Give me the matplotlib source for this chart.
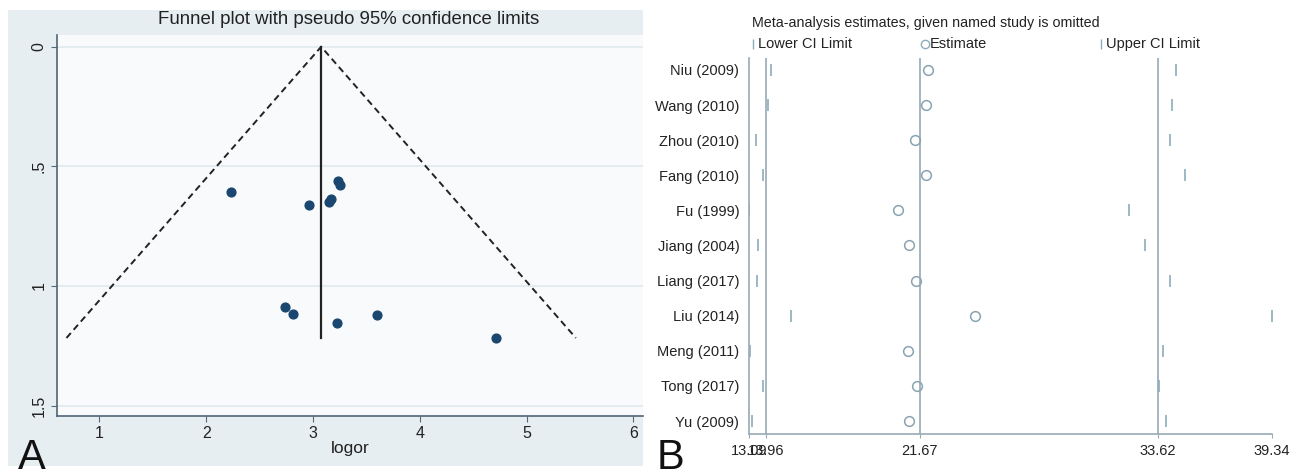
import numpy as np
import matplotlib.pyplot as plt
from matplotlib.patches import Rectangle
from matplotlib.lines import Line2D

plt.rcParams['font.family'] = ['Liberation Sans', 'DejaVu Sans']

# panel A: funnel plot data (log OR vs s.e. of log OR)
logor = [2.23, 2.96, 3.145, 3.17, 3.235, 3.255, 2.74, 2.81, 3.22, 3.60, 4.71]
se_logor = [0.607, 0.661, 0.647, 0.637, 0.562, 0.579, 1.089, 1.117, 1.156, 1.119, 1.216]
pooled_logor = 3.076
se_max = 1.217

# panel B: leave-one-out sensitivity analysis
studies = ['Niu (2009)', 'Wang (2010)', 'Zhou (2010)', 'Fang (2010)', 'Fu (1999)',
           'Jiang (2004)', 'Liang (2017)', 'Liu (2014)', 'Meng (2011)', 'Tong (2017)',
           'Yu (2009)']
estimate = [22.09, 21.98, 21.42, 21.98, 20.58, 21.10, 21.46, 24.42, 21.06, 21.54, 21.14]
lower_ci = [14.17, 14.04, 13.46, 13.81, 13.09, 13.52, 13.48, 15.20, 13.12, 13.81, 13.22]
upper_ci = [34.51, 34.34, 34.23, 34.97, 32.17, 32.99, 34.23, 39.34, 33.86, 33.65, 34.04]
overall = [13.96, 21.67, 33.62]
b_ticks = [13.09, 13.96, 21.67, 33.62, 39.34]

W, H = 1308, 472
fig = plt.figure(figsize=(W / 100, H / 100), dpi=100)
fig.patch.set_facecolor('white')


def box(x0, y0, x1, y1):
    # pixel box (top-left origin) -> figure fraction rect
    return [x0 / W, 1 - y1 / H, (x1 - x0) / W, (y1 - y0) / H]


# ---- panel A ----
r = box(8, 10, 643, 466)
fig.patches.append(Rectangle((r[0], r[1]), r[2], r[3], transform=fig.transFigure,
                             facecolor='#e7eef1', edgecolor='none', zorder=-5))
axA = fig.add_axes(box(57, 35, 643, 416))
axA.set_zorder(2)
axA.set_facecolor('#f8fafb')
axA.set_xlim(0.602, 6.09)
axA.set_ylim(1.543, -0.049)
for y in [0, 0.5, 1, 1.5]:
    axA.axhline(y, color='#e2eaee', lw=1.2, zorder=1)

se_line = np.array([se_max, 0, se_max])
x_line = pooled_logor + 1.96 * se_line * np.array([-1, 0, 1])
axA.plot(x_line, se_line, color='#222222', ls=(0, (3.4, 2.2)), lw=1.4, zorder=2)
axA.plot([pooled_logor, pooled_logor], [0, se_max], color='#222222', lw=1.6, zorder=2)
axA.scatter(logor, se_logor, s=40, color='#1a476f', zorder=3)

axA.set_xticks([1, 2, 3, 4, 5, 6])
axA.set_yticks([0, 0.5, 1, 1.5])
axA.set_yticklabels(['0', '.5', '1', '1.5'], rotation=90, va='center')
axA.tick_params(labelsize=11.5, length=4, width=0.8)
axA.tick_params(axis='x', colors='#546a7b', labelcolor='#222222')
axA.tick_params(axis='y', colors='#546a7b', labelcolor='#222222')
for s in ['top', 'right']:
    axA.spines[s].set_visible(False)
for s in ['left', 'bottom']:
    axA.spines[s].set_color('#4f6577')
    axA.spines[s].set_linewidth(1.2)
axA.set_xlabel('logor', fontsize=12.5, color='#222222', labelpad=0)
fig.text(349 / W, 1 - 19 / H, 'Funnel plot with pseudo 95% confidence limits',
         ha='center', va='center', fontsize=13.4, color='#222222')
fig.text(18 / W, 0.006, 'A', fontsize=30, color='#111111', va='baseline')

# ---- panel B ----
axB = fig.add_axes(box(749, 58, 1272, 434))
axB.set_facecolor('white')
rows = np.arange(len(studies))
axB.set_ylim(len(studies) - 1 + 0.37, -0.34)
axB.set_xlim(b_ticks[0], b_ticks[-1])
for v in overall:
    axB.axvline(v, color='#97a9b4', lw=1.2, zorder=1)
mark_col = '#8eacbc'
axB.plot(lower_ci, rows, ls='none', marker='|', ms=9, mew=1.2, color=mark_col, zorder=2)
axB.plot(upper_ci, rows, ls='none', marker='|', ms=9, mew=1.2, color=mark_col, zorder=2)
axB.plot(estimate, rows, ls='none', marker='o', ms=7, mfc='none', mew=1.1,
         color='#8aa3b2', zorder=3)
axB.set_yticks(rows)
axB.set_yticklabels(studies)
axB.set_xticks(b_ticks)
axB.set_xticklabels([f'{t:.2f}' for t in b_ticks])
axB.tick_params(axis='y', length=0, pad=7, labelsize=10.5, labelcolor='#222222')
axB.tick_params(axis='x', length=3, width=0.8, colors='#97a9b4', labelsize=10.5,
                labelcolor='#222222', pad=4)
for s in ['top', 'right']:
    axB.spines[s].set_visible(False)
for s in ['left', 'bottom']:
    axB.spines[s].set_color('#97a9b4')
    axB.spines[s].set_linewidth(1.2)

fig.text(752 / W, 1 - 23 / H, 'Meta-analysis estimates, given named study is omitted',
         ha='left', va='center', fontsize=10.3, color='#222222')
leg_y = 1 - 44 / H
legend_items = [(753, '|', 'Lower CI Limit'), (925, 'o', 'Estimate'),
                (1101, '|', 'Upper CI Limit')]
for px, mk, label in legend_items:
    fig.add_artist(Line2D([px / W], [leg_y], marker=mk, ls='none', ms=6 if mk == 'o' else 7,
                          mfc='none', mew=1.0, color=mark_col, transform=fig.transFigure))
    fig.text((px + 5) / W, leg_y, label, ha='left', va='center', fontsize=10.5,
             color='#222222')
fig.text(657 / W, 0.006, 'B', fontsize=30, color='#111111', va='baseline')

fig.savefig('out.png', dpi=100)
